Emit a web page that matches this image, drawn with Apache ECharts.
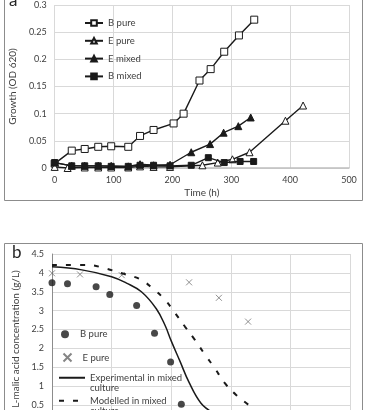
<!DOCTYPE html>
<html>
<head>
<meta charset="utf-8">
<script src="https://cdn.jsdelivr.net/npm/echarts@6/dist/echarts.min.js"></script>
<style>
html, body { margin: 0; padding: 0; background: #fff; overflow: hidden; height: 410px; }
#chart { width: 366px; height: 450px; }
</style>
</head>
<body>
<div id="chart"></div>
<script>
// panel a: growth (OD 620) against time
const aXTicks = [0, 100, 200, 300, 400, 500]
const aYTicks = [0, 0.05, 0.1, 0.15, 0.2, 0.25, 0.3]
const bPureT = [0, 29, 51, 74, 96, 125, 145, 168, 202, 219, 246, 265, 288, 313, 339]
const bPureV = [0.008, 0.032, 0.035, 0.039, 0.040, 0.039, 0.059, 0.070, 0.082, 0.100, 0.161, 0.182, 0.214, 0.244, 0.273]
const ePureT = [0, 22, 51, 74, 96, 125, 145, 168, 196, 251, 277, 302, 331, 392, 422]
const ePureV = [0.002, 0.0, 0.001, 0.001, 0.001, 0.001, 0.003, 0.002, 0.002, 0.005, 0.010, 0.016, 0.029, 0.087, 0.115]
const eMixedT = [0, 29, 51, 74, 96, 125, 145, 168, 196, 232, 264, 287, 312, 333]
const eMixedV = [0.010, 0.004, 0.004, 0.004, 0.004, 0.003, 0.007, 0.005, 0.006, 0.029, 0.044, 0.065, 0.077, 0.093]
const bMixedT = [0, 29, 51, 74, 96, 125, 145, 168, 196, 232, 261, 288, 315, 338]
const bMixedV = [0.010, 0.004, 0.004, 0.004, 0.003, 0.003, 0.005, 0.005, 0.004, 0.005, 0.019, 0.010, 0.012, 0.012]

// panel b: L-malic acid concentration against time
const bXTicks = [0, 100, 200, 300, 400, 500]
const bYTicks = [0, 0.5, 1, 1.5, 2, 2.5, 3, 3.5, 4, 4.5]
const maloBT = [0, 26, 74, 97, 142, 172, 199, 217]
const maloBV = [3.74, 3.71, 3.63, 3.43, 3.14, 2.40, 1.64, 0.52]
const maloET = [0, 47, 117, 230, 280, 329]
const maloEV = [3.99, 3.96, 3.94, 3.75, 3.34, 2.71]
const expT = [0, 50, 100, 125, 150, 175, 190, 200, 215, 230, 250, 270]
const expV = [4.16, 4.08, 3.90, 3.73, 3.50, 3.05, 2.60, 2.20, 1.65, 1.10, 0.55, 0.30]
const modT = [0, 60, 89, 117, 148, 169, 190, 206, 223, 240, 257, 273, 290, 309, 332]
const modV = [4.21, 4.21, 4.12, 3.99, 3.83, 3.59, 3.28, 2.95, 2.58, 2.22, 1.83, 1.48, 1.08, 0.77, 0.48]

const zip = (t, v) => t.map((x, i) => [x, v[i]])
const font = 'Lato'
const txt = '#404040'
const ink = '#1a1a1a'
const crossPath = 'path://M0,0L10,10M0,10L10,0'

const myChart = echarts.init(document.getElementById('chart'), null, { renderer: 'canvas' })

function valueAxis (ticks, grid, extra) {
  return Object.assign({
    type: 'value',
    gridIndex: grid,
    min: ticks[0],
    max: ticks[ticks.length - 1],
    interval: ticks[1] - ticks[0],
    axisTick: { show: false },
    axisLabel: { color: txt, fontFamily: font, fontSize: 9, margin: 8 },
    splitLine: { lineStyle: { color: '#d9d9d9', width: 1 } },
    nameTextStyle: { color: txt, fontFamily: font, fontSize: 10 }
  }, extra)
}

function lineSeries (name, data, symbol, filled, size) {
  return {
    name: name,
    type: 'line',
    xAxisIndex: 0,
    yAxisIndex: 0,
    data: data,
    symbol: symbol,
    symbolSize: size,
    showAllSymbol: true,
    lineStyle: { color: ink, width: 1.4 },
    itemStyle: { color: filled ? ink : '#fff', borderColor: ink, borderWidth: 1 },
    emphasis: { disabled: true },
    z: filled ? 3 : 2
  }
}

// legend for panel b: one small legend per entry so each row sits where it should
function bLegend (name, top, left, width, label) {
  return {
    left: left,
    top: top,
    padding: 0,
    itemWidth: width,
    itemHeight: 8,
    data: [name],
    formatter: label ? () => label : null,
    itemStyle: label ? { opacity: 0 } : {},
    textStyle: { color: txt, fontFamily: font, fontSize: 9.5, lineHeight: 10.5 }
  }
}

var option = {
  animation: false,
  backgroundColor: '#fff',
  textStyle: { fontFamily: font },
  grid: [
    { left: 48, top: 5, width: 301, height: 163 },
    { left: 52, top: 254, width: 298, height: 170 }
  ],
  xAxis: [
    valueAxis(aXTicks, 0, {
      name: 'Time (h)',
      nameLocation: 'middle',
      nameGap: 20,
      axisLine: { show: true, lineStyle: { color: '#bfbfbf', width: 1.5 } }
    }),
    valueAxis(bXTicks, 1, {
      axisLine: { show: false }
    })
  ],
  yAxis: [
    valueAxis(aYTicks, 0, {
      name: 'Growth (OD 620)',
      nameLocation: 'middle',
      nameGap: 30,
      axisLine: { show: false }
    }),
    valueAxis(bYTicks, 1, {
      name: 'L-malic acid concentration (g/L)',
      nameLocation: 'middle',
      nameGap: 31,
      axisLine: { show: true, lineStyle: { color: '#8c8c8c', width: 1 } }
    })
  ],
  legend: [
    {
      orient: 'vertical',
      left: 84,
      top: 18,
      padding: 0,
      itemWidth: 18,
      itemHeight: 7,
      itemGap: 7.8,
      data: ['B pure', 'E pure', 'E mixed', 'B mixed'],
      textStyle: { color: txt, fontFamily: font, fontSize: 9.5 }
    },
    bLegend('B pure ', 329, 61, 20),
    bLegend('E pure ', 351, 61, 20),
    bLegend('Experimental in mixed culture', 362, 58, 26, ' \nExperimental in mixed\nculture'),
    bLegend('Modelled in mixed culture', 385, 58, 26, ' \nModelled in mixed\nculture')
  ],
  graphic: [
    { type: 'rect', shape: { x: 4.5, y: -10, width: 358, height: 210.5 }, style: { fill: 'none', stroke: '#8c8c8c', lineWidth: 1 }, silent: true },
    { type: 'rect', shape: { x: 4.5, y: 243.5, width: 358, height: 200 }, style: { fill: 'none', stroke: '#8c8c8c', lineWidth: 1 }, silent: true },
    { type: 'text', left: 9, top: -8, style: { text: 'a', fontSize: 17, fontFamily: font, fill: '#262626' }, silent: true },
    { type: 'text', left: 12, top: 244, style: { text: 'b', fontSize: 17, fontFamily: font, fill: '#262626' }, silent: true }
  ],
  series: [
    lineSeries('B pure', zip(bPureT, bPureV), 'rect', false, 7),
    lineSeries('E pure', zip(ePureT, ePureV), 'triangle', false, 7),
    lineSeries('E mixed', zip(eMixedT, eMixedV), 'triangle', true, 7),
    lineSeries('B mixed', zip(bMixedT, bMixedV), 'rect', true, 6),
    {
      name: 'B pure ',
      type: 'scatter',
      xAxisIndex: 1,
      yAxisIndex: 1,
      data: zip(maloBT, maloBV),
      symbol: 'circle',
      symbolSize: 7,
      itemStyle: { color: ink },
      emphasis: { disabled: true }
    },
    {
      name: 'E pure ',
      type: 'scatter',
      xAxisIndex: 1,
      yAxisIndex: 1,
      data: zip(maloET, maloEV),
      symbol: crossPath,
      symbolSize: 6,
      itemStyle: { color: 'none', borderColor: '#666', borderWidth: 0.9 },
      emphasis: { disabled: true }
    },
    {
      name: 'Experimental in mixed culture',
      type: 'line',
      xAxisIndex: 1,
      yAxisIndex: 1,
      data: zip(expT, expV),
      smooth: 0.4,
      symbol: 'none',
      lineStyle: { color: ink, width: 1.5 },
      itemStyle: { color: ink },
      emphasis: { disabled: true }
    },
    {
      name: 'Modelled in mixed culture',
      type: 'line',
      xAxisIndex: 1,
      yAxisIndex: 1,
      data: zip(modT, modV),
      smooth: 0.4,
      symbol: 'none',
      lineStyle: { color: ink, width: 2, type: [5, 9] },
      itemStyle: { color: ink },
      emphasis: { disabled: true }
    }
  ]
}

myChart.setOption(option)
</script>
</body>
</html>
